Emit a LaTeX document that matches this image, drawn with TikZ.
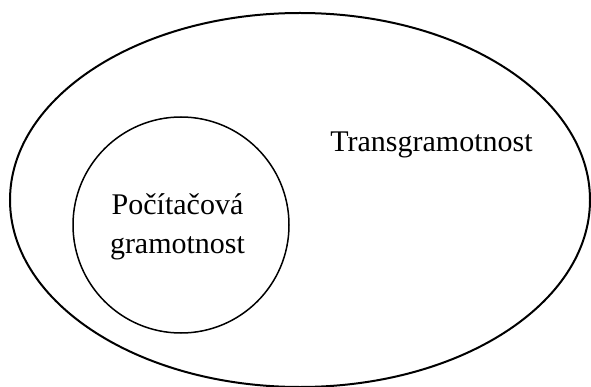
\documentclass[tikz,border=0pt]{standalone}
\usepackage{fontspec}
\setmainfont{Liberation Serif}
\usetikzlibrary{shapes.geometric}
\begin{document}
\begin{tikzpicture}[x=1pt,y=-1pt,
  outerset/.style={draw, ellipse, line width=2pt, minimum width=580pt, minimum height=374pt, inner sep=0pt},
  innerset/.style={draw, circle, line width=1.5pt, minimum size=216pt, inner sep=0pt},
  lbl/.style={font=\fontsize{30pt}{38pt}\selectfont, inner sep=0pt, align=center, anchor=base}]
\useasboundingbox (0,0) rectangle (591,387);
\node[outerset] (outer) at (300,200) {};
\node[innerset] (inner) at (181,225) {};
\node[lbl] (tlabel) at (431.5,152) {Transgramotnost};
\node[lbl] (clabel) at (177.5,253) {Počítačová\\gramotnost};
\end{tikzpicture}
\end{document}
